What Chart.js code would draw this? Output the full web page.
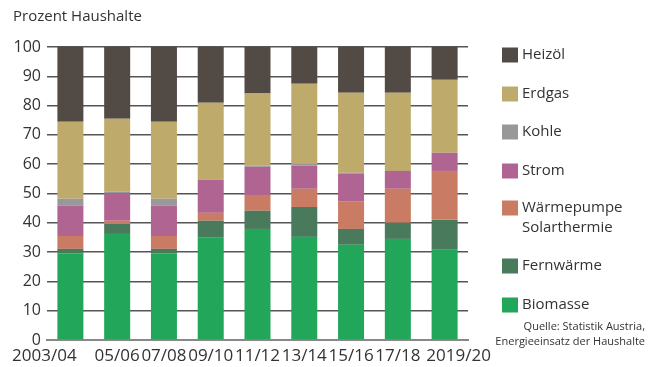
<!DOCTYPE html>
<html lang="de">
<head>
<meta charset="utf-8">
<title>Prozent Haushalte</title>
<script src="https://cdn.jsdelivr.net/npm/chart.js@4"></script>
<style>
  html, body { margin: 0; padding: 0; background: #fff; }
  #wrap { position: relative; width: 659px; height: 367px; }
</style>
</head>
<body>
<div id="wrap"><canvas id="heatChart" width="659" height="367"></canvas></div>
<script>
  const periods = ["2003/04", "05/06", "07/08", "09/10", "11/12", "13/14", "15/16", "17/18", "2019/20"];

  // Anteile in Prozent, von unten nach oben gestapelt
  const biomasse    = [29.5, 36.2, 29.5, 34.9, 37.9, 35.2, 32.5, 34.5, 30.8];
  const fernwaerme  = [1.6, 3.4, 1.6, 5.8, 6.2, 10.2, 5.4, 5.5, 10.2];
  const waermepumpe = [4.4, 1.1, 4.4, 2.7, 5.4, 6.2, 9.3, 11.6, 16.7];
  const strom       = [10.3, 9.3, 10.3, 11.3, 9.6, 7.9, 9.5, 6.1, 6.2];
  const kohle       = [2.4, 0.6, 2.4, 0, 0.5, 0.6, 0.4, 0, 0];
  const erdgas      = [26.3, 24.9, 26.3, 26.3, 24.5, 27.4, 27.3, 26.7, 24.9];
  const heizoel     = [25.5, 24.5, 25.5, 19.0, 15.9, 12.5, 15.6, 15.6, 11.2];

  const yTicks = [0, 10, 20, 30, 40, 50, 60, 70, 80, 90, 100];

  const series = [
    { label: "Biomasse", data: biomasse, color: "#22a65a" },
    { label: "Fernwärme", data: fernwaerme, color: "#497a5b" },
    { label: ["Wärmepumpe", "Solarthermie"], data: waermepumpe, color: "#c97c63" },
    { label: "Strom", data: strom, color: "#b06491" },
    { label: "Kohle", data: kohle, color: "#98989a" },
    { label: "Erdgas", data: erdgas, color: "#beab6c" },
    { label: "Heizöl", data: heizoel, color: "#524a45" }
  ];

  const textColor = "#333";
  const font = "'Open Sans', 'Noto Sans', sans-serif";

  // Beschriftungen ausserhalb der Achsen: Titel, Legende, Quelle, Kategorien
  const extras = {
    id: "extras",
    afterDraw(chart) {
      const ctx = chart.ctx;
      ctx.save();
      ctx.fillStyle = textColor;
      ctx.textBaseline = "middle";

      ctx.font = "15px " + font;
      ctx.textAlign = "left";
      ctx.fillText("Prozent Haushalte", 13, 17);

      // Kategorien unter den Balken
      const xs = chart.scales.x;
      ctx.font = "17px " + font;
      ctx.textAlign = "center";
      periods.forEach((p, i) => {
        let x = xs.getPixelForValue(i);
        if (i === 0) x -= 26;
        if (i === periods.length - 1) x += 14;
        ctx.fillText(p, x, 356);
      });

      // Legende, oberster Stapel zuerst
      const rows = series.slice().reverse();
      const rowY = [55, 94, 132, 171, 208, 266, 305];
      ctx.font = "15px " + font;
      ctx.textAlign = "left";
      rows.forEach((s, i) => {
        const y = rowY[i];
        ctx.fillStyle = s.color;
        ctx.fillRect(502, y - 7.5, 16, 15);
        ctx.fillStyle = textColor;
        const lines = Array.isArray(s.label) ? s.label : [s.label];
        lines.forEach((t, k) => ctx.fillText(t, 522, y + k * 20));
      });

      ctx.font = "11px " + font;
      ctx.textAlign = "right";
      ctx.fillText("Quelle: Statistik Austria,", 645, 327);
      ctx.fillText("Energieeinsatz der Haushalte", 645, 342);
      ctx.restore();
    }
  };

  new Chart(document.getElementById("heatChart"), {
    type: "bar",
    data: {
      labels: periods,
      datasets: series.map(s => ({
        label: Array.isArray(s.label) ? s.label.join(" ") : s.label,
        data: s.data,
        backgroundColor: s.color,
        borderWidth: 0,
        barPercentage: 0.556,
        categoryPercentage: 1
      }))
    },
    options: {
      responsive: false,
      animation: false,
      layout: { padding: { top: 47, right: 191, left: 0, bottom: 0 } },
      plugins: {
        legend: { display: false },
        tooltip: { enabled: false }
      },
      scales: {
        x: {
          stacked: true,
          grid: { display: false },
          border: { color: "#888", width: 2 },
          ticks: { display: false },
          afterFit(scale) { scale.height = 27; }
        },
        y: {
          stacked: true,
          min: 0,
          max: 100,
          afterBuildTicks(scale) { scale.ticks = yTicks.map(v => ({ value: v })); },
          afterFit(scale) { scale.width = 47; },
          grid: { color: "#555", lineWidth: 1.6, drawTicks: false },
          border: { display: false },
          ticks: {
            color: textColor,
            padding: 6,
            font: { family: font, size: 16 }
          }
        }
      }
    },
    plugins: [extras]
  });
</script>
</body>
</html>
